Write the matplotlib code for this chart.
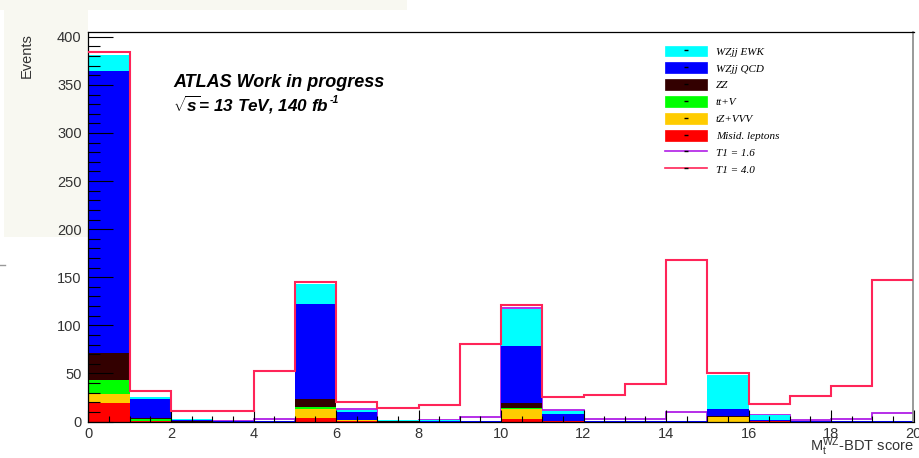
import numpy as np
import matplotlib
matplotlib.use("Agg")
import matplotlib.pyplot as plt
from matplotlib.patches import Patch, Rectangle
from matplotlib.lines import Line2D
from matplotlib.legend_handler import HandlerTuple
from matplotlib.ticker import MultipleLocator

plt.rcParams['font.family'] = ['Liberation Sans', 'DejaVu Sans']
plt.rcParams['mathtext.fontset'] = 'custom'
plt.rcParams['mathtext.rm'] = 'Liberation Sans'
plt.rcParams['mathtext.it'] = 'Liberation Sans:italic'
plt.rcParams['mathtext.bf'] = 'Liberation Sans:bold'
plt.rcParams['mathtext.bfit'] = 'Liberation Sans:bold:italic'

# Binning of the BDT score
edges = np.arange(0, 21)

# Background yields per bin (stacked bottom -> top)
misid = [19.0, 0.3, 0.0, 0.0, 0.0, 3.6, 0.3, 0.0, 0.0, 0.0,
         2.6, 0.2, 0.0, 0.0, 0.0, 0.0, 0.1, 0.0, 0.0, 0.0]
tz_vvv = [9.3, 0.5, 0.0, 0.0, 0.0, 9.1, 1.0, 0.0, 0.0, 0.0,
          10.1, 0.6, 0.0, 0.0, 0.0, 4.2, 0.3, 0.0, 0.0, 0.0]
ttv = [15.0, 2.2, 0.0, 0.0, 0.0, 2.4, 0.2, 0.0, 0.0, 0.0,
       1.0, 0.1, 0.0, 0.0, 0.0, 0.0, 0.1, 0.0, 0.0, 0.0]
zz = [28.0, 0.3, 0.1, 0.0, 0.0, 8.3, 0.3, 0.1, 0.0, 0.0,
      5.3, 0.1, 0.0, 0.0, 0.0, 1.0, 0.2, 0.0, 0.0, 0.0]
wzjj_qcd = [293.0, 20.2, 1.8, 0.3, 0.1, 98.6, 7.7, 0.8, 0.3, 0.2,
            59.6, 6.8, 0.6, 0.3, 0.1, 8.0, 1.2, 0.2, 0.1, 0.1]
wzjj_ewk = [17.0, 2.0, 0.3, 0.1, 0.2, 21.2, 2.8, 0.2, 0.9, 0.1,
            38.3, 3.5, 0.2, 0.2, 0.1, 35.5, 4.5, 0.8, 0.1, 0.1]

# Reweighted templates
t1_16 = [0.0, 0.0, 0.3, 0.7, 2.7, 0.0, 12.8, 1.0, 1.9, 4.7,
         117.6, 12.0, 2.2, 2.3, 9.9, 0.0, 6.6, 1.2, 2.3, 8.5]
t1_40 = [384.0, 31.8, 10.8, 10.8, 52.8, 145.0, 20.5, 14.3, 17.0, 80.5,
         121.4, 25.8, 27.3, 38.7, 168.0, 50.8, 18.5, 27.0, 37.3, 147.4]

stack_labels = ['Misid. leptons', 'tZ+VVV', 'tt+V', 'ZZ', 'WZjj QCD', 'WZjj EWK']
stack_colors = ['#ff0000', '#ffcc00', '#00ff00', '#330000', '#0000ff', '#00ffff']
stack_values = [misid, tz_vvv, ttv, zz, wzjj_qcd, wzjj_ewk]
line_labels = ['T1 = 1.6', 'T1 = 4.0']
purple = '#b01ee6'
pink = '#ff2458'

W, H = 920, 458
fig = plt.figure(figsize=(W / 100, H / 100), dpi=100, facecolor='white')

# light panel behind the upper-left corner
cream = '#f8f8f1'
fig.add_artist(Rectangle((4 / W, 1 - 237 / H), 84 / W, 227 / H,
                         transform=fig.transFigure, color=cream, lw=0, zorder=-5))
fig.add_artist(Rectangle((0, 1 - 10 / H), 407 / W, 10 / H,
                         transform=fig.transFigure, color=cream, lw=0, zorder=-5))
fig.add_artist(Line2D([0, 5 / W], [1 - 265 / H] * 2, transform=fig.transFigure,
                      color='#999999', lw=1))

x0, x1, y0, y1 = 88.5, 913.5, 421.5, 32.0
ax = fig.add_axes([x0 / W, 1 - y0 / H, (x1 - x0) / W, (y0 - y1) / H])
ax.set_xlim(0, 20)
ax.set_ylim(0, 405)
ax.set_axisbelow(False)

bottom = np.zeros(len(edges) - 1)
for vals, col in zip(stack_values, stack_colors):
    vals = np.asarray(vals)
    ax.bar(edges[:-1], vals, width=1.0, bottom=bottom, align='edge',
           color=col, linewidth=0, zorder=2)
    bottom += vals


def step_outline(values):
    """Histogram outline without the outer drops to zero."""
    xs = np.repeat(edges, 2)[1:-1]
    ys = np.repeat(np.asarray(values, dtype=float), 2)
    return xs, ys


ax.plot(*step_outline(t1_16), color=purple, lw=1.3, zorder=1.5,
        solid_joinstyle='miter')
ax.plot(*step_outline(t1_40), color=pink, lw=1.5, zorder=3,
        solid_joinstyle='miter')

# axes styling
for side in ['left', 'bottom', 'top']:
    ax.spines[side].set_color('black')
    ax.spines[side].set_linewidth(0.9)
ax.spines['right'].set_color('#888888')
ax.spines['right'].set_linewidth(1.2)

ax.xaxis.set_major_locator(MultipleLocator(2))
ax.xaxis.set_minor_locator(MultipleLocator(0.5))
ax.yaxis.set_major_locator(MultipleLocator(50))
ax.yaxis.set_minor_locator(MultipleLocator(10))
ax.tick_params(which='both', direction='in', top=False, right=False,
               colors='black', width=0.8, labelcolor='#333333', labelsize=10.5)
ax.tick_params(axis='y', which='major', length=18, pad=4.9)
ax.tick_params(axis='y', which='minor', length=8.6)
ax.tick_params(axis='x', which='major', length=8.6, pad=3.7)
ax.tick_params(axis='x', which='minor', length=4.3)

fig.text(27 / W, 1 - 33 / H, 'Events', rotation=90, ha='center', va='top',
         fontsize=10.5, color='#333333')
ax.text(1.0, -(451.5 - y0) / (y0 - y1), r'M$_{\mathrm{t}}^{\mathrm{WZ}}$-BDT score',
        transform=ax.transAxes, ha='right', va='baseline', fontsize=10.5,
        color='#333333')

tx = (173 - x0) / (x1 - x0)
ax.text(tx, (y0 - 86.7) / (y0 - y1), 'ATLAS Work in progress',
        transform=ax.transAxes, ha='left', va='baseline', fontsize=13,
        fontweight='bold', fontstyle='italic', color='black')
base2 = (y0 - 111) / (y0 - y1)
lumi = ax.text(tx, base2, r'$\sqrt{\mathbfit{s}}$= 13 TeV, 140 fb',
               transform=ax.transAxes, ha='left', va='baseline', fontsize=12.3,
               fontweight='bold', fontstyle='italic', color='black')
ax.annotate('-1', xy=(1.0, base2), xycoords=(lumi, 'axes fraction'),
            xytext=(0.6, 5.5), textcoords='offset points', ha='left',
            va='baseline', fontsize=7.5, fontweight='bold', fontstyle='italic',
            color='black')

# legend: filled boxes and lines, each with a small centre mark
def centre_mark():
    return Line2D([], [], color='black', marker='_', markersize=2.5,
                  markeredgewidth=1, linestyle='none')


handles, labels = [], []
for lab, col in zip(reversed(stack_labels), reversed(stack_colors)):
    handles.append((Patch(facecolor=col, edgecolor=col, lw=0.5), centre_mark()))
    labels.append(lab)
for lab, col in zip(line_labels, [purple, pink]):
    handles.append((Line2D([], [], color=col, lw=1.2), centre_mark()))
    labels.append(lab)

ax.legend(handles, labels, handler_map={tuple: HandlerTuple(ndivide=1, pad=0)},
          loc='upper left',
          bbox_to_anchor=((665 - x0) / (x1 - x0), (y0 - 45.5) / (y0 - y1)),
          frameon=False, borderpad=0, borderaxespad=0,
          prop=dict(family='Liberation Serif', style='italic', size=8),
          handlelength=3.78, handleheight=1.1, labelspacing=0.52,
          handletextpad=0.78)

fig.savefig('out.png', dpi=100, facecolor='white')
